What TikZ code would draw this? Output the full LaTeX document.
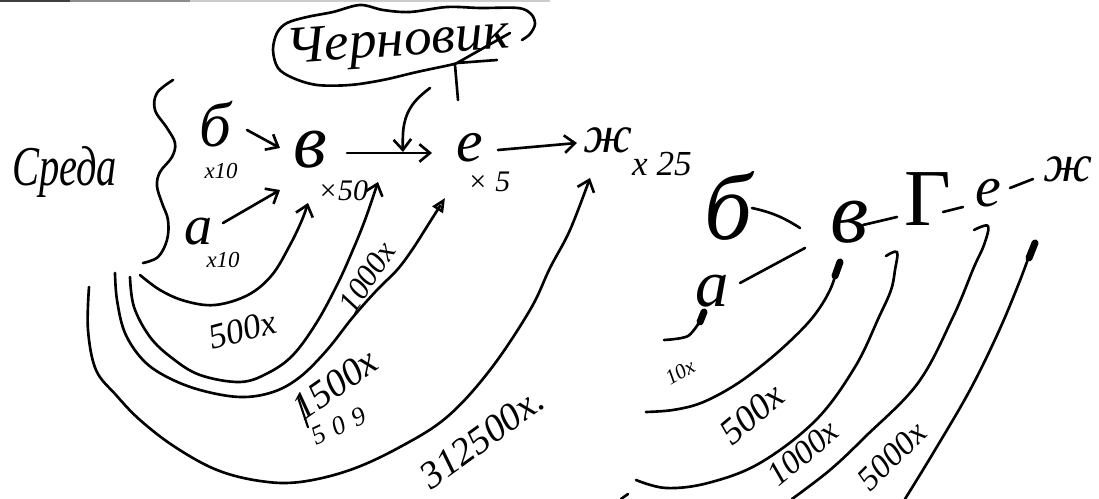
\documentclass[tikz,border=0pt]{standalone}
\usepackage{fontspec}
\setmainfont{Liberation Serif}
\usetikzlibrary{arrows.meta}
\begin{document}
\begin{tikzpicture}[x=0.02cm,y=-0.02cm,
  hand/.style={line width=1.5pt,line cap=round,line join=round},
  tip/.style={-{Straight Barb[length=6pt,width=10pt]}},
  otip/.style={-{Triangle[open,length=8pt,width=7pt]}},
  lt/.style={font=\itshape\fontsize{#1}{#1}\selectfont,inner sep=0pt},
  ut/.style={font=\fontsize{#1}{#1}\selectfont,inner sep=0pt},
  blob/.style={line width=4pt,line cap=round}]
\useasboundingbox (0,0) rectangle (1099,499);
% scan edge
\draw[black!75,line width=1.2pt] (0,1)--(70,1);
\draw[black!45,line width=1pt] (70,1)--(190,1);
\draw[black!20,line width=1pt] (190,1)--(550,1);

% ---------- left diagram ----------
\node[lt=32,xscale=0.72,anchor=base west] (sreda) at (12,186) {Среда};
\draw[hand] plot[smooth,tension=0.6] coordinates {(173,80) (157,93) (155,110) (167,128) (175,143) (172,157) (160,172) (157,186) (162,203) (168,220) (167,240) (158,257) (143,263)};

\node[lt=36,anchor=base] (b) at (215,147) {б};
\node[lt=13] (b10) at (221,171) {x10};
\node[lt=32,anchor=base] (a) at (199,245) {а};
\node[lt=13] (a10) at (223,260) {x10};
\node[lt=44,anchor=base] (v) at (310,168) {в};
\node[lt=17] (v50) at (343,191) {×50};
\node[lt=34,anchor=base] (e) at (470,162) {е};
\node[lt=17] (e5) at (489,182) {× 5};
\node[lt=30,anchor=base] (zh) at (608,153) {ж};
\node[lt=20] (zh25) at (662,164) {x 25};

\draw[hand,tip] (247,130) -- (280,148);
\draw[hand,tip] (223,223) -- (280,190);
\draw[hand,tip] (347,153) -- (432,153);
\draw[hand,tip] (498,150) -- (577,143);

% draft cloud
\node[lt=30,xscale=1.05,rotate=4] (draft) at (398,44) {Черновик};
\draw[hand] plot[smooth,tension=0.55] coordinates {(522,40) (530,34) (535,24) (531,14) (518,8) (480,8) (447,7) (410,12) (383,10) (360,5) (333,12) (307,17) (287,23) (277,33) (273,50) (278,68) (293,78) (317,85) (350,85) (383,80) (417,72) (450,65) (457,63)};
\draw[hand] (510,33) -- (457,63) -- (497,60);
\draw[hand] (455,65) -- (458,100);
\draw[hand,tip] plot[smooth,tension=0.7] coordinates {(430,88) (413,104) (404,125) (403,152)};

% arcs
\draw[hand,tip] plot[smooth,tension=0.6] coordinates {(140,275) (160,290) (185,301) (215,305) (248,295) (272,275) (290,245) (302,220) (308,203)};
\draw[hand,tip] plot[smooth,tension=0.6] coordinates {(130,277) (134,307) (150,337) (172,358) (200,375) (240,382) (268,373) (293,355) (317,322) (338,283) (352,252) (365,220) (378,182)};
\draw[hand,otip] plot[smooth,tension=0.6] coordinates {(115,273) (117,300) (125,333) (143,360) (167,377) (200,390) (240,397) (273,392) (300,377) (327,350) (353,317) (377,290) (397,270) (412,250) (428,225) (445,198)};
\draw[hand,tip] plot[smooth,tension=0.6] coordinates {(89,287) (88,330) (96,370) (116,395) (140,420) (175,447) (217,470) (260,481) (300,482) (350,470) (400,447) (447,417) (490,370) (530,310) (550,268) (570,230) (590,178)};

\node[lt=20,rotate=15] (l500) at (243,330) {500x};
\node[lt=18,rotate=57] (l1000) at (367,277) {1000x};
\node[lt=22,rotate=35] (l1500) at (335,384) {1500x};
\draw[hand,line width=1.2pt] (l1500.west) ++(2,-14) -- ++(10,30);
\node[lt=15,rotate=25] (l509) at (339,426) {5\,\,0\,\,9};
\node[lt=22,rotate=36] (l312) at (482,438) {312500x.};

% ---------- right diagram ----------
\node[lt=54,anchor=base] (rb) at (728,240) {б};
\node[lt=50,anchor=base] (rv) at (850,243) {в};
\node[lt=38,anchor=base] (ra) at (712,307) {а};
\node[ut=46,anchor=base] (rg) at (928,226) {Г};
\node[lt=33,anchor=base] (re) at (988,207) {е};
\node[lt=30,anchor=base] (rzh) at (1068,182) {ж};

\draw[hand] (752,208) to[bend left=10] (800,228);
\draw[hand] (740,283) -- (805,248);
\draw[hand] (863,225) -- (897,217);
\draw[hand] (943,212) -- (963,207);
\draw[hand] (1010,188) -- (1033,179);

\draw[hand] plot[smooth] coordinates {(664,340) (688,336) (702,318)};
\draw[blob] (700,322) -- (704,312);
\draw[hand] plot[smooth,tension=0.6] coordinates {(646,412) (673,410) (701,403) (732,387) (760,367) (788,343) (813,317) (830,290) (839,263)};
\draw[blob] (835,276) -- (840,262);
\draw[hand] plot[smooth,tension=0.6] coordinates {(886,256) (897,252) (895,270) (891,290) (879,317) (855,367) (816,420) (760,463) (708,483) (666,488) (636,480)};
\draw[hand] plot[smooth,tension=0.6] coordinates {(974,230) (988,226) (984,245) (974,267) (953,317) (918,383) (865,437) (830,470) (792,499)};
\draw[hand] plot[smooth,tension=0.6] coordinates {(1033,245) (1019,283) (998,333) (970,390) (935,450) (905,499)};
\draw[blob] (1029,258) -- (1035,243);
\draw[hand] (621,499) -- (628,494);

\node[lt=12,rotate=30] (r10) at (680,372) {10x};
\node[lt=21,rotate=40] (r500) at (752,414) {500x};
\node[lt=19,rotate=40] (r1000) at (803,453) {1000x};
\node[lt=19,rotate=45] (r5000) at (892,456) {5000x};
\end{tikzpicture}
\end{document}
